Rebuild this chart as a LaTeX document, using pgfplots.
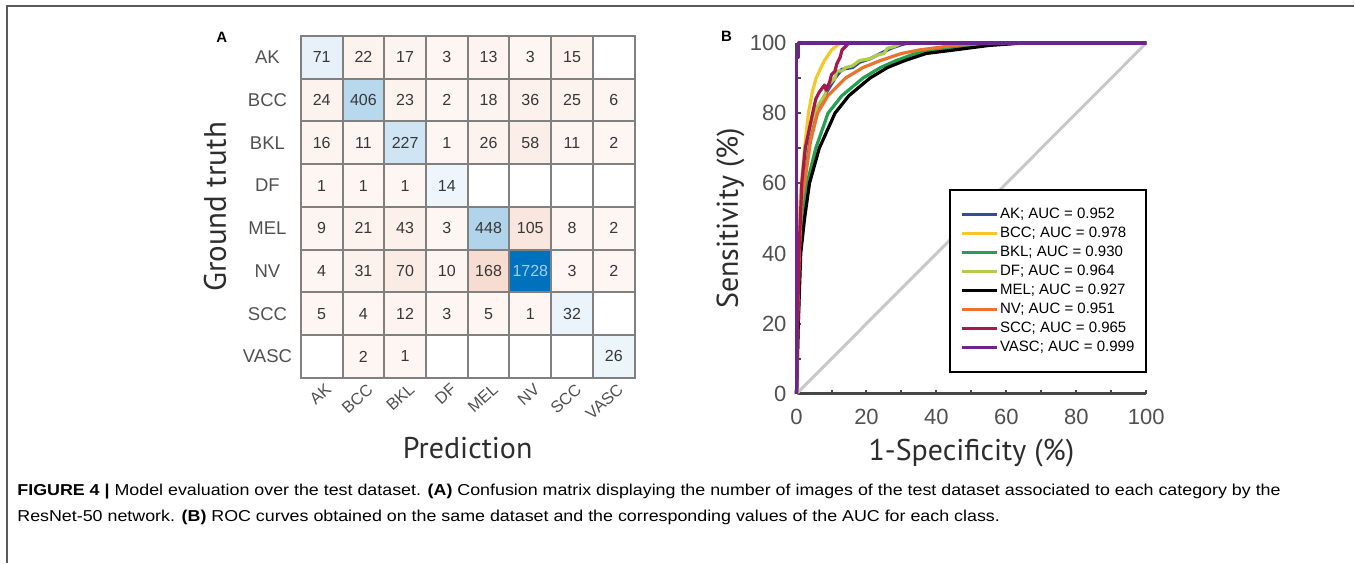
\documentclass[border=0pt]{standalone}
\usepackage{graphicx}
\usepackage{pgfplots}
\usepackage{pgfplotstable}
\pgfplotsset{compat=1.18}
\usepackage{fontspec}
\setmainfont{Liberation Sans}
\newfontfamily\labelfont{PT Sans}

\definecolor{cellgray}{RGB}{128,128,128}
\definecolor{ticktext}{RGB}{80,80,80}
\definecolor{numtext}{RGB}{55,55,55}
\definecolor{nvtext}{RGB}{165,205,240}
\definecolor{axisgray}{RGB}{70,70,70}
\definecolor{diaggray}{RGB}{200,200,200}
\definecolor{framegray}{RGB}{90,90,90}
\definecolor{labtext}{RGB}{45,45,45}
\definecolor{ak}{RGB}{52,74,163}
\definecolor{bcc}{RGB}{245,200,40}
\definecolor{bkl}{RGB}{35,160,80}
\definecolor{df}{RGB}{175,205,70}
\definecolor{mel}{RGB}{0,0,0}
\definecolor{nv}{RGB}{235,115,45}
\definecolor{scc}{RGB}{165,25,75}
\definecolor{vasc}{RGB}{110,35,145}

% confusion matrix: x = prediction, y = ground truth, c = count
\pgfplotstableread{
x y c
0 0 71
1 0 22
2 0 17
3 0 3
4 0 13
5 0 3
6 0 15
7 0 0
0 1 24
1 1 406
2 1 23
3 1 2
4 1 18
5 1 36
6 1 25
7 1 6
0 2 16
1 2 11
2 2 227
3 2 1
4 2 26
5 2 58
6 2 11
7 2 2
0 3 1
1 3 1
2 3 1
3 3 14
4 3 0
5 3 0
6 3 0
7 3 0
0 4 9
1 4 21
2 4 43
3 4 3
4 4 448
5 4 105
6 4 8
7 4 2
0 5 4
1 5 31
2 5 70
3 5 10
4 5 168
5 5 1728
6 5 3
7 5 2
0 6 5
1 6 4
2 6 12
3 6 3
4 6 5
5 6 1
6 6 32
7 6 0
0 7 0
1 7 2
2 7 1
3 7 0
4 7 0
5 7 0
6 7 0
7 7 26
}\cmdata

\newcommand{\cellnum}[1]{\ifnum#1=0 \else\ifnum#1>1000 \textcolor{nvtext}{#1}\else#1\fi\fi}

\begin{document}
\begin{tikzpicture}
\path (0pt,0pt) rectangle (677.5pt,281.5pt);
\draw[framegray, line width=0.8pt] (3.5pt,0pt) -- (3.5pt,278.5pt) -- (677.5pt,278.5pt);

\node[font=\bfseries\fontsize{7.5}{8}\selectfont] at (111pt,263pt) {A};
\node[font=\bfseries\fontsize{7.5}{8}\selectfont] at (363.5pt,263.5pt) {B};

% panel A
\begin{axis}[
    at={(150.5pt,92.5pt)}, anchor=south west,
    scale only axis, width=167pt, height=171pt,
    xmin=-0.5, xmax=7.5, ymin=-0.5, ymax=7.5,
    y dir=reverse, enlargelimits=false,
    xtick={0,...,7}, ytick={0,...,7},
    xticklabels={AK,BCC,BKL,DF,MEL,NV,SCC,VASC},
    yticklabels={AK,BCC,BKL,DF,MEL,NV,SCC,VASC},
    minor xtick={0.5,1.5,...,6.5}, minor ytick={0.5,1.5,...,6.5},
    grid=minor, minor grid style={cellgray, line width=1pt},
    major tick length=0pt, minor tick length=0pt,
    axis line style={cellgray, line width=1pt},
    axis on top,
    colormap={cm}{rgb255=(217,83,25) rgb255=(255,255,255) rgb255=(0,114,189)},
    point meta min=-1838, point meta max=1838,
    tick label style={text=ticktext},
    yticklabel style={font=\fontsize{9.25}{10}\selectfont, text width=26pt, align=center, inner sep=0pt, xshift=-3.5pt},
    xticklabel style={font=\fontsize{8.2}{9}\selectfont, xshift=3.5pt, yshift=-4.5pt, rotate=42, anchor=east, inner sep=0pt},
    xlabel={Prediction}, ylabel={Ground truth},
    xlabel style={at={(axis description cs:0.5,-0.205)}, anchor=center, font=\labelfont\fontsize{15}{16}\selectfont, text=labtext},
    ylabel style={at={(axis description cs:-0.257,0.5)}, anchor=center, font=\labelfont\fontsize{15.5}{16}\selectfont, text=labtext},
]
\addplot[matrix plot*, mesh/cols=8, point meta=explicit]
    table[meta expr={ifthenelse(\thisrow{c}==0,0,ifthenelse(\thisrow{x}==\thisrow{y},\thisrow{c}+110,-92-1.65*\thisrow{c}))}] {\cmdata};
\addplot[only marks, mark=none, point meta=explicit symbolic,
    nodes near coords={\cellnum{\pgfplotspointmeta}},
    nodes near coords style={anchor=center, font=\fontsize{8}{9}\selectfont, text=numtext}]
    table[meta=c] {\cmdata};
\end{axis}

% panel B
\begin{axis}[
    at={(398.5pt,84.5pt)}, anchor=south west,
    scale only axis, width=175pt, height=175.5pt,
    xmin=0, xmax=100, ymin=0, ymax=100,
    axis x line*=bottom, axis y line*=left,
    xtick={0,20,...,100}, ytick={0,20,...,100}, minor tick num=1,
    tick align=inside, major tick length=2pt, minor tick length=2pt,
    tick style={axisgray, line width=1pt},
    axis line style={axisgray, line width=1.3pt},
    tick label style={font=\fontsize{11}{12}\selectfont, text=ticktext, /pgf/number format/assume math mode=true},
    xticklabel style={yshift=-4pt}, yticklabel style={xshift=-1.5pt},
    clip=false,
    xlabel={1-Specificity (\%)}, ylabel={Sensitivity (\%)},
    xlabel style={at={(axis description cs:0.5,-0.168)}, anchor=center, font=\labelfont\fontsize{15}{16}\selectfont, text=labtext},
    ylabel style={at={(axis description cs:-0.189,0.5)}, anchor=center, font=\labelfont\fontsize{15}{16}\selectfont, text=labtext},
    legend style={at={(1.003,0.06)}, anchor=south east, draw=black, line width=1pt,
        font=\fontsize{7.5}{8}\selectfont, inner xsep=5pt, inner ysep=8pt, row sep=1.6pt,
        nodes={inner xsep=1pt, inner ysep=0.6pt}},
    legend cell align=left,
    legend image code/.code={\draw[#1, line width=1.6pt] (0pt,0pt) -- (17.5pt,0pt);},
    every axis plot/.append style={line width=1.6pt, line join=round},
]
\addplot[diaggray, line width=1.5pt, forget plot] coordinates {(0,0) (100,100)};
\addplot[ak] coordinates {(0,0) (0.5,30) (1,50) (2,62) (3.5,72) (5.5,80) (8,85) (11,90) (13,92.5) (16,93) (18,94.5) (21,95.5) (24,97) (27,98.5) (30,99.5) (32,100) (100,100)};
\addplot[bcc] coordinates {(0,0) (0.2,20) (0.5,40) (1,55) (1.4,60) (2.3,70) (3.4,80) (4.5,86) (5.6,90) (7,93) (8,95) (10,98) (12.5,100) (100,100)};
\addplot[bkl] coordinates {(0,0) (0.5,20) (1,40) (2,52) (3,60) (5.5,70) (9,80) (13,85) (19,90) (24,93) (28.5,95) (34,97) (40,98) (50,99.3) (60,100) (100,100)};
\addplot[df] coordinates {(0,0) (0.5,30) (1,50) (2,65) (3,72) (4.5,78) (6,82) (8,85) (9,88) (11,90) (11.5,92) (13,92) (14,93) (16,93.5) (18,95) (21,95.5) (23,96.5) (25,97) (26,98.5) (28,99) (30,100) (100,100)};
\addplot[mel] coordinates {(0,0) (0.5,20) (1.2,40) (2.3,50) (3.7,60) (6.5,70) (11,80) (15,85) (21,90) (26,93) (31,95) (37,97) (45,98) (55,99.3) (65,100) (100,100)};
\addplot[nv] coordinates {(0,0) (0.3,20) (0.8,40) (1.5,55) (2.3,60) (4,72) (6,80) (9,85) (14,90) (19,93) (24,95) (30,97) (35,98) (45,99.3) (55,100) (100,100)};
\addplot[scc] coordinates {(0,0) (0.3,20) (0.7,40) (1.5,60) (2.5,70) (4.6,80) (5.5,84) (6.5,86) (8,88) (8.5,86.5) (9.5,89) (10,91) (11,92) (11.5,94) (12.5,96) (13,98) (14,99) (15,100) (100,100)};
\addplot[vasc] coordinates {(0,0) (0,96) (0.5,96) (0.5,100) (100,100)};
\legend{AK; AUC = 0.952, BCC; AUC = 0.978, BKL; AUC = 0.930, DF; AUC = 0.964, MEL; AUC = 0.927, NV; AUC = 0.951, SCC; AUC = 0.965, VASC; AUC = 0.999}
\end{axis}

% caption
\node[anchor=base west, inner sep=0pt, font=\fontsize{7.9}{9}\selectfont, text=black] at (8.5pt,33.5pt)
  {\scalebox{1.13}[1]{\textbf{FIGURE 4 |} Model evaluation over the test dataset. \textbf{(A)} Confusion matrix displaying the number of images of the test dataset associated to each category by the}};
\node[anchor=base west, inner sep=0pt, font=\fontsize{7.9}{9}\selectfont, text=black] at (8.5pt,20.5pt)
  {\scalebox{1.13}[1]{ResNet-50 network. \textbf{(B)} ROC curves obtained on the same dataset and the corresponding values of the AUC for each class.}};
\end{tikzpicture}
\end{document}
